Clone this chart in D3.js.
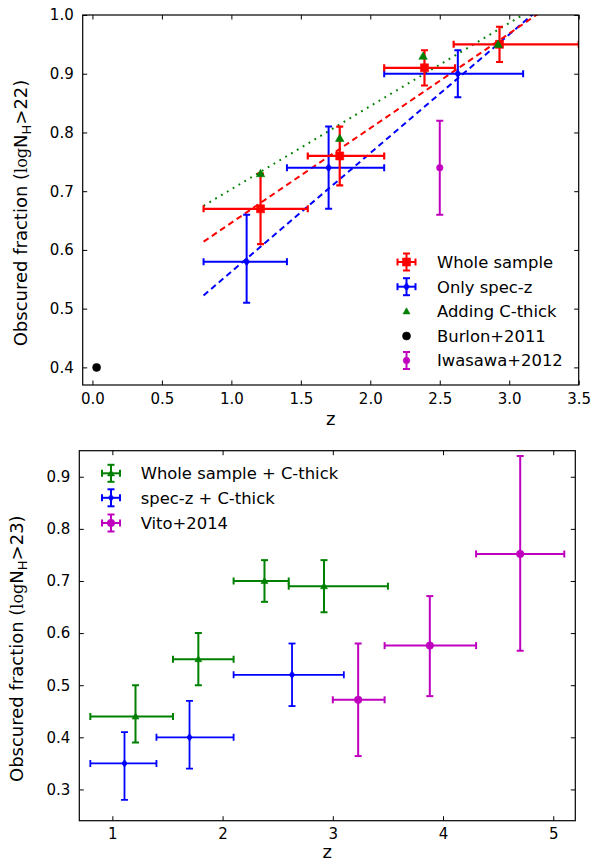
<!DOCTYPE html>
<html><head><meta charset="utf-8">
<script src="https://cdn.jsdelivr.net/npm/d3@7"></script>
<style>body{margin:0;background:#fff} svg{font-family:"DejaVu Sans",sans-serif;}</style>
</head><body><svg id="c" width="604" height="863"></svg>
<script>
// ---------- Top panel data (logNH > 22) ----------
const wholeZ   = [1.21, 1.78, 2.39, 2.93];
const wholeF   = [0.67, 0.76, 0.91, 0.95];
const wholeZlo = [0.80, 1.55, 2.10, 2.60];
const wholeZhi = [1.55, 2.10, 2.61, 3.50];
const wholeFlo = [0.61, 0.71, 0.88, 0.92];
const wholeFhi = [0.73, 0.81, 0.94, 0.98];

const specZ   = [1.11, 1.70, 2.63];
const specF   = [0.58, 0.74, 0.90];
const specZlo = [0.80, 1.40, 2.10];
const specZhi = [1.40, 2.10, 3.10];
const specFlo = [0.51, 0.67, 0.86];
const specFhi = [0.66, 0.81, 0.94];

const cthickZ = [1.21, 1.78, 2.38, 2.92];
const cthickF = [0.73, 0.79, 0.93, 0.95];

const burlonZ = [0.03];
const burlonF = [0.40];

const iwasawaZ = [2.50];
const iwasawaF = [0.74];
const iwasawaFlo = [0.66];
const iwasawaFhi = [0.82];

// linear fits: value at z=0.8 and at z=3.5
const fitZ      = [0.8, 3.5];
const fitWhole  = [0.614, 1.049];
const fitSpec   = [0.5225, 1.068];
const fitCthick = [0.675, 1.057];

const topXTicks = [0.0, 0.5, 1.0, 1.5, 2.0, 2.5, 3.0, 3.5];
const topYTicks = [0.4, 0.5, 0.6, 0.7, 0.8, 0.9, 1.0];
const topLegend = ["Whole sample", "Only spec-z", "Adding C-thick", "Burlon+2011", "Iwasawa+2012"];

// ---------- Bottom panel data (logNH > 23) ----------
const wcZ   = [1.21, 1.78, 2.38, 2.92];
const wcF   = [0.44, 0.55, 0.70, 0.69];
const wcZlo = [0.80, 1.55, 2.10, 2.60];
const wcZhi = [1.55, 2.10, 2.60, 3.50];
const wcFlo = [0.39, 0.50, 0.66, 0.64];
const wcFhi = [0.50, 0.60, 0.74, 0.74];

const scZ   = [1.11, 1.70, 2.63];
const scF   = [0.35, 0.40, 0.52];
const scZlo = [0.80, 1.40, 2.10];
const scZhi = [1.40, 2.10, 3.10];
const scFlo = [0.28, 0.34, 0.46];
const scFhi = [0.41, 0.47, 0.58];

const vitoZ   = [3.23, 3.88, 4.70];
const vitoF   = [0.472, 0.576, 0.752];
const vitoZlo = [3.00, 3.47, 4.30];
const vitoZhi = [3.47, 4.30, 5.10];
const vitoFlo = [0.364, 0.479, 0.566];
const vitoFhi = [0.580, 0.671, 0.940];

const botXTicks = [1, 2, 3, 4, 5];
const botYTicks = [0.3, 0.4, 0.5, 0.6, 0.7, 0.8, 0.9];
const botLegend = ["Whole sample + C-thick", "spec-z + C-thick", "Vito+2014"];

// ---------- drawing ----------
const svg = d3.select("#c");
const RED = "#ff0000", BLUE = "#0000ff", GREEN = "#008000", MAG = "#bf00bf", BLK = "#000000";

function panel(opt) {
  const x = d3.scaleLinear().domain(opt.xd).range([opt.l, opt.r]);
  const y = d3.scaleLinear().domain(opt.yd).range([opt.b, opt.t]);
  const g = svg.append("g");
  const cid = "clip" + opt.id;
  svg.append("defs").append("clipPath").attr("id", cid)
    .append("rect").attr("x", opt.l).attr("y", opt.t).attr("width", opt.r - opt.l).attr("height", opt.b - opt.t);
  const plot = g.append("g").attr("clip-path", `url(#${cid})`);
  return {x, y, g, plot, opt};
}

function axes(P, xt, yt, xfmt, yfmt, ylab, ylx, xly) {
  const {x, y, g, opt} = P;
  const tl = 4.5;
  const ax = d3.axisBottom(x).tickValues(xt).tickFormat(xfmt).tickSizeInner(-tl).tickSizeOuter(0).tickPadding(8);
  const gb = g.append("g").attr("transform", `translate(0,${opt.b})`).call(ax);
  const at = d3.axisTop(x).tickValues(xt).tickFormat("").tickSizeInner(-tl).tickSizeOuter(0);
  const gt = g.append("g").attr("transform", `translate(0,${opt.t})`).call(at);
  const al = d3.axisLeft(y).tickValues(yt).tickFormat(yfmt).tickSizeInner(-tl).tickSizeOuter(0).tickPadding(opt.ypad);
  const gl = g.append("g").attr("transform", `translate(${opt.l},0)`).call(al);
  const ar = d3.axisRight(y).tickValues(yt).tickFormat("").tickSizeInner(-tl).tickSizeOuter(0);
  const gr = g.append("g").attr("transform", `translate(${opt.r},0)`).call(ar);
  [gb, gt, gl, gr].forEach(a => {
    a.select(".domain").remove();
    a.selectAll("line").attr("stroke", "#000").attr("stroke-width", 1);
    a.selectAll("text").attr("font-family", "DejaVu Sans").attr("font-size", 15).attr("fill", "#000");
  });
  gb.selectAll("text").attr("dy", "0.71em");
  g.append("rect").attr("x", opt.l).attr("y", opt.t).attr("width", opt.r - opt.l).attr("height", opt.b - opt.t)
    .attr("fill", "none").attr("stroke", "#000").attr("stroke-width", 1.2);
  g.append("text").attr("x", (opt.l + opt.r) / 2).attr("y", xly).attr("text-anchor", "middle")
    .attr("font-size", 18).text("z");
  const cy = (opt.t + opt.b) / 2 + 13;
  const t = g.append("text").attr("transform", `translate(${ylx},${cy}) rotate(-90)`)
    .attr("text-anchor", "middle").attr("font-size", 18);
  t.append("tspan").text("Obscured fraction (");
  t.append("tspan").attr("font-family", "DejaVu Serif").attr("font-size", 16).text("log");
  t.append("tspan").text("N");
  t.append("tspan").attr("font-size", 13).attr("dy", 4).text("H");
  t.append("tspan").attr("dy", -4).text(ylab + ")");
}

function errbar(g, cx, cy, x0, x1, y0, y1, color, cap, lw) {
  const s = g.append("g").attr("stroke", color).attr("stroke-width", lw).attr("fill", "none");
  if (x0 !== null) {
    s.append("line").attr("x1", x0).attr("x2", x1).attr("y1", cy).attr("y2", cy);
    s.append("line").attr("x1", x0).attr("x2", x0).attr("y1", cy - cap).attr("y2", cy + cap);
    s.append("line").attr("x1", x1).attr("x2", x1).attr("y1", cy - cap).attr("y2", cy + cap);
  }
  if (y0 !== null) {
    s.append("line").attr("x1", cx).attr("x2", cx).attr("y1", y0).attr("y2", y1);
    s.append("line").attr("x1", cx - cap).attr("x2", cx + cap).attr("y1", y0).attr("y2", y0);
    s.append("line").attr("x1", cx - cap).attr("x2", cx + cap).attr("y1", y1).attr("y2", y1);
  }
}

function marker(g, type, cx, cy, size, color) {
  const sym = {square: d3.symbolSquare, diamond: d3.symbolDiamond, triangle: d3.symbolTriangle, circle: d3.symbolCircle}[type];
  let area;
  if (type === "square") area = size * size;
  else if (type === "circle") area = Math.PI * size * size / 4;
  else if (type === "diamond") area = size * size / (2 * Math.tan(Math.PI / 6)) * 0.55;
  else area = size * size * Math.sqrt(3) / 4;
  const p = g.append("path").attr("d", d3.symbol().type(sym).size(area)())
    .attr("transform", `translate(${cx},${cy + (type === "triangle" ? size * 0.08 : 0)})`)
    .attr("fill", color).attr("stroke", color).attr("stroke-width", 0.6);
  if (type === "diamond") p.attr("transform", `translate(${cx},${cy}) scale(1.25,0.95)`);
}

function series(P, zs, fs, zlo, zhi, flo, fhi, color, mtype, msize, lw) {
  const {x, y, plot} = P;
  zs.forEach((z, i) => {
    errbar(plot, x(z), y(fs[i]),
      zlo ? x(zlo[i]) : null, zhi ? x(zhi[i]) : null,
      flo ? y(flo[i]) : null, fhi ? y(fhi[i]) : null, color, 3.5, lw);
    marker(plot, mtype, x(z), y(fs[i]), msize, color);
  });
}

// ===== TOP =====
const T = panel({id: "t", xd: [-0.07, 3.5], yd: [0.37, 1.0], l: 82.7, r: 578.7, t: 15, b: 385, ypad: 9});
const line = d3.line().x(d => T.x(d[0])).y(d => T.y(d[1]));
T.plot.append("path").attr("d", line(fitZ.map((z, i) => [z, fitSpec[i]])))
  .attr("stroke", BLUE).attr("stroke-width", 2).attr("fill", "none").attr("stroke-dasharray", "6,4");
T.plot.append("path").attr("d", line(fitZ.map((z, i) => [z, fitWhole[i]])))
  .attr("stroke", RED).attr("stroke-width", 2).attr("fill", "none").attr("stroke-dasharray", "6,4");
T.plot.append("path").attr("d", line(fitZ.map((z, i) => [z, fitCthick[i]])))
  .attr("stroke", GREEN).attr("stroke-width", 2).attr("fill", "none").attr("stroke-dasharray", "1.8,5");

series(T, specZ, specF, specZlo, specZhi, specFlo, specFhi, BLUE, "diamond", 6.5, 2);
series(T, wholeZ, wholeF, wholeZlo, wholeZhi, wholeFlo, wholeFhi, RED, "square", 8, 2.2);
series(T, cthickZ, cthickF, null, null, null, null, GREEN, "triangle", 8.5, 2);
series(T, burlonZ, burlonF, null, null, null, null, BLK, "circle", 8, 2);
series(T, iwasawaZ, iwasawaF, null, null, iwasawaFlo, iwasawaFhi, MAG, "circle", 6.5, 2);

axes(T, topXTicks, topYTicks, d3.format(".1f"), d3.format(".1f"), ">22", 27, 425);

const tl = T.g.append("g");
const tlY = [262, 286.7, 311.3, 336, 360.5];
const tlSpec = [
  {c: RED, m: "square", s: 8, xe: true, ye: true},
  {c: BLUE, m: "diamond", s: 6.5, xe: true, ye: true},
  {c: GREEN, m: "triangle", s: 8.5, xe: false, ye: false},
  {c: BLK, m: "circle", s: 8, xe: false, ye: false},
  {c: MAG, m: "circle", s: 6.5, xe: false, ye: true}
];
topLegend.forEach((lab, i) => {
  const sp = tlSpec[i], cx = 406.5, cy = tlY[i];
  errbar(tl, cx, cy, sp.xe ? cx - 9 : null, sp.xe ? cx + 9 : null, sp.ye ? cy - 8.5 : null, sp.ye ? cy + 8.5 : null, sp.c, 3.5, 2);
  marker(tl, sp.m, cx, cy, sp.m === "triangle" ? 7 : sp.s, sp.c);
  tl.append("text").attr("x", 437).attr("y", cy).attr("dy", "0.36em").attr("font-size", 16.4).text(lab);
});

// ===== BOTTOM =====
const B = panel({id: "b", xd: [0.7, 5.2], yd: [0.24, 0.95], l: 79.3, r: 575.3, t: 450.7, b: 820.7, ypad: 9});
series(B, wcZ, wcF, wcZlo, wcZhi, wcFlo, wcFhi, GREEN, "triangle", 7, 2);
series(B, scZ, scF, scZlo, scZhi, scFlo, scFhi, BLUE, "diamond", 6, 1.8);
series(B, vitoZ, vitoF, vitoZlo, vitoZhi, vitoFlo, vitoFhi, MAG, "circle", 7.5, 2);
axes(B, botXTicks, botYTicks, d3.format("d"), d3.format(".1f"), ">23", 23, 858);

const bl = B.g.append("g");
const blY = [473.3, 497.8, 523];
const blSpec = [{c: GREEN, m: "triangle", s: 7}, {c: BLUE, m: "diamond", s: 6}, {c: MAG, m: "circle", s: 7.5}];
botLegend.forEach((lab, i) => {
  const sp = blSpec[i], cx = 111, cy = blY[i];
  errbar(bl, cx, cy, cx - 9, cx + 9, cy - 8.5, cy + 8.5, sp.c, 3.5, 2);
  marker(bl, sp.m, cx, cy, sp.s, sp.c);
  bl.append("text").attr("x", 140.7).attr("y", cy).attr("dy", "0.36em").attr("font-size", 16.4).text(lab);
});
</script></body></html>
